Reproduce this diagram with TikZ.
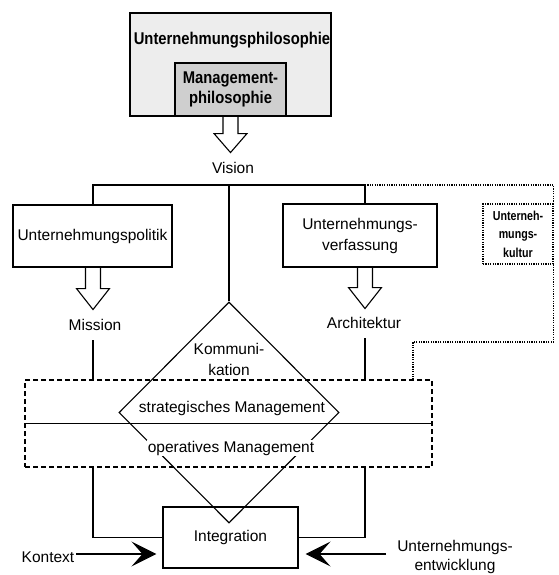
\documentclass[tikz,border=0pt]{standalone}
\usepackage{fontspec}
\setmainfont{Liberation Sans}
\newfontfamily\condfont[FakeStretch=0.87]{Liberation Sans}
\newfontfamily\narrowfont[FakeStretch=0.82]{Liberation Sans}
\usetikzlibrary{arrows.meta,shapes.geometric}

\begin{document}
\begin{tikzpicture}[x=1pt,y=-1pt,
  line width=1.1pt,
  txt/.style={font=\fontsize{15.5}{21}\selectfont, align=center, inner sep=2pt},
  box/.style={draw, rectangle, inner sep=0pt, txt},
  harrow/.style={draw, fill=white, line width=1.1pt, line join=miter},
  bigtip/.style={-{Stealth[length=25pt,width=25pt,inset=11pt]}},
  dots/.style={dash pattern=on 1.2pt off 1.2pt},
  dashbox/.style={draw, dash pattern=on 5pt off 3pt}
]
\useasboundingbox (0,0) rectangle (558,575);

% philosophy boxes
\node[box, fill=gray!14, minimum width=201pt, minimum height=103pt] (uphil) at (230.5,64.5) {};
\node[font=\condfont\bfseries\fontsize{17}{20}\selectfont] (uphilT) at (232,40) {Unternehmungsphilosophie};
\node[box, fill=gray!38, minimum width=111pt, minimum height=53pt,
      font=\condfont\bfseries\fontsize{17}{19.5}\selectfont] (mphil) at (230.5,89.5) {Management-\\philosophie};
\draw[harrow] (mphil.south) ++(-7.5,0.6) -- ++(0,16.4) -- ++(-9,0) -- ++(16.5,19) -- ++(16.5,-19) -- ++(-9,0) -- ++(0,-16.4);
\node[txt] (vision) at (233,168) {Vision};

% second level
\coordinate (hL) at (93,185);
\coordinate (hR) at (365,185);
\coordinate (kc) at (413,342);
\node[box, minimum width=159pt, minimum height=62pt] (pol) at (92.5,236) {Unternehmungspolitik};
\node[box, minimum width=154pt, minimum height=63pt] (verf) at (360,235.5) {Unternehmungs-\\verfassung};
\node[draw, dots, rectangle, minimum width=70pt, minimum height=60pt, inner sep=0pt, align=center,
      font=\narrowfont\bfseries\fontsize{13}{18.5}\selectfont] (kult) at (518,234) {Unterneh-\\mungs-\\kultur};

\draw[harrow] (pol.south -| hL) ++(-7.5,0.6) -- ++(0,20.4) -- ++(-9,0) -- ++(16.5,21) -- ++(16.5,-21) -- ++(-9,0) -- ++(0,-20.4);
\draw[harrow] (verf.south -| hR) ++(-7.5,0.6) -- ++(0,19.4) -- ++(-9,0) -- ++(16.5,21) -- ++(16.5,-21) -- ++(-9,0) -- ++(0,-19.4);
\node[txt] (mission) at (95,325) {Mission};
\node[txt] (archi) at (364,323) {Architektur};

% management levels and communication diamond
\node[dashbox, minimum width=407pt, minimum height=87pt, inner sep=0pt] (mgmt) at (228.5,423.5) {};
\node[box, minimum width=135pt, minimum height=61pt] (integ) at (230.5,537.5) {Integration};
\node[draw, diamond, minimum width=220pt, minimum height=221pt, inner sep=0pt] (komm) at (229,412.5) {};
\node[txt] (kommT) at (229,359) {Kommuni-\\kation};
\node[txt] (strat) at (232,408) {strategisches Management};
\node[txt, fill=white, inner sep=1pt] (oper) at (231,448) {operatives Management};

% connectors
\draw (pol.north -| hL) -- (hL) -- (hR) -- (verf.north -| hR);
\draw (komm.north) -- (komm.north |- hL);
\draw[dots] (hR) -| (kult.north east);
\draw[dots] (kult.south east) |- (kc) -- (kc |- mgmt.north);
\draw[shorten <=7pt] (mission.south -| hL) -- (mgmt.north -| hL);
\draw[shorten <=7pt] (archi.south -| hR) -- (mgmt.north -| hR);
\draw (mgmt.west) -- (mgmt.east);
\draw (mgmt.south -| hL) |- (integ.west);
\draw (mgmt.south -| hR) |- (integ.east);

% influences on integration
\node[txt] (kontext) at (48,557) {Kontext};
\node[txt, font=\fontsize{15.5}{19}\selectfont] (entw) at (455,557) {Unternehmungs-\\entwicklung};
\coordinate (kA) at (76,554);
\coordinate (eA) at (386,554);
\draw[bigtip, shorten >=6pt] (kA) -- (kA -| integ.west);
\draw[bigtip, shorten >=7pt] (eA) -- (eA -| integ.east);
\end{tikzpicture}
\end{document}
